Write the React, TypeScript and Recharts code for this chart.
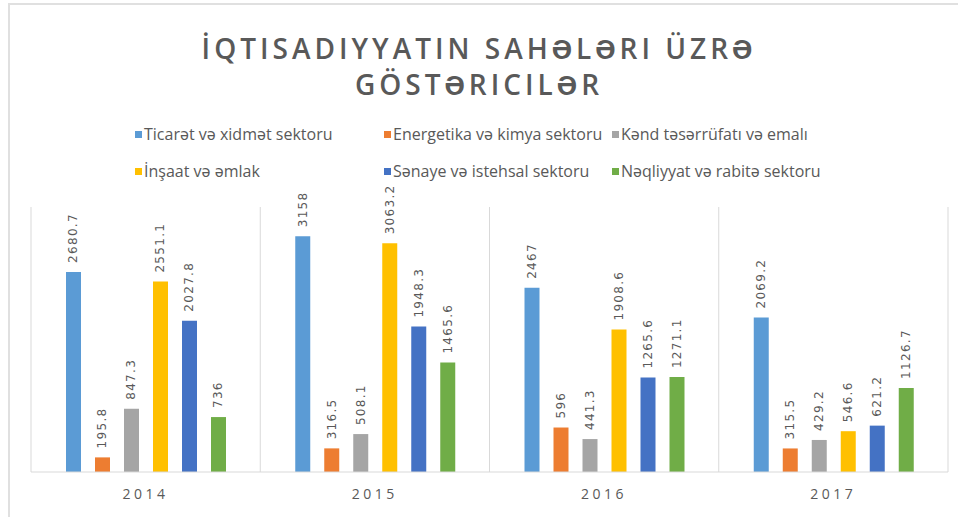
import React from "react";
import { Bar, BarChart, CartesianGrid, LabelList, XAxis, YAxis } from "recharts";

const years = ["2014", "2015", "2016", "2017"];
const ticaret = [2680.7, 3158, 2467, 2069.2];
const energetika = [195.8, 316.5, 596, 315.5];
const kend = [847.3, 508.1, 441.3, 429.2];
const insaat = [2551.1, 3063.2, 1908.6, 546.6];
const senaye = [2027.8, 1948.3, 1265.6, 621.2];
const neqliyyat = [736, 1465.6, 1271.1, 1126.7];

const series = [
  { key: "ticaret", name: "Ticarət və xidmət sektoru", color: "#5B9BD5", values: ticaret },
  { key: "energetika", name: "Energetika və kimya sektoru", color: "#ED7D31", values: energetika },
  { key: "kend", name: "Kənd təsərrüfatı və emalı", color: "#A5A5A5", values: kend },
  { key: "insaat", name: "İnşaat və əmlak", color: "#FFC000", values: insaat },
  { key: "senaye", name: "Sənaye və istehsal sektoru", color: "#4472C4", values: senaye },
  { key: "neqliyyat", name: "Nəqliyyat və rabitə sektoru", color: "#70AD47", values: neqliyyat },
];

const data = years.map((year, i) => {
  const row: Record<string, any> = { year, idx: i + 0.5 };
  series.forEach((s) => (row[s.key] = s.values[i]));
  return row;
});

const textColor = "#595959";
const gridColor = "#d9d9d9";
const font = "'Open Sans', sans-serif";

// legend layout: 3 columns, 2 rows
const legendCols = [135, 384, 612];
const legendRows = [0, 37];

function ChartLegend() {
  return (
    <div style={{ position: "absolute", left: 0, top: 124, width: 958, height: 60 }}>
      {series.map((s, i) => (
        <div
          key={s.key}
          style={{
            position: "absolute",
            left: legendCols[i % 3],
            top: legendRows[Math.floor(i / 3)],
            display: "flex",
            alignItems: "center",
            fontFamily: font,
            fontSize: 16,
            lineHeight: "20px",
            color: textColor,
            whiteSpace: "nowrap",
          }}
        >
          <span style={{ display: "inline-block", width: 7, height: 7, background: s.color, marginRight: 2 }} />
          {s.name}
        </div>
      ))}
    </div>
  );
}

const renderValue = (props: any) => {
  const { x, y, width, value } = props;
  const cx = x + width / 2;
  const ty = y - 9;
  return (
    <text
      x={cx}
      y={ty}
      transform={`rotate(-90, ${cx}, ${ty})`}
      textAnchor="start"
      dominantBaseline="central"
      fill={textColor}
      fontSize={12}
      letterSpacing={1.3}
      fontFamily="'DejaVu Sans', sans-serif"
    >
      {value}
    </text>
  );
};

export default function App() {
  return (
    <div
      style={{
        position: "absolute",
        left: 0,
        top: 0,
        width: 958,
        height: 517,
        background: "#fff",
        overflow: "hidden",
      }}
    >
      <div
        style={{
          position: "absolute",
          left: 8,
          top: 3,
          width: 950,
          height: 514,
          borderLeft: "2px solid #e0e0e0",
          borderTop: "2px solid #e0e0e0",
        }}
      />
      <div
        style={{
          position: "absolute",
          left: 0,
          top: 30,
          width: 958,
          textAlign: "center",
          fontFamily: font,
          fontSize: 28,
          fontWeight: 600,
          letterSpacing: 4,
          lineHeight: "36px",
          color: textColor,
        }}
      >
        İQTISADIYYATIN SAHƏLƏRI ÜZRƏ
        <br />
        GÖSTƏRICILƏR
      </div>
      <ChartLegend />
      <BarChart
        width={958}
        height={517}
        data={data}
        margin={{ top: 207, right: 10, bottom: 15, left: 31 }}
        barGap={14}
        barSize={15}
        style={{ position: "absolute", left: 0, top: 0 }}
      >
        <XAxis xAxisId="grid" dataKey="idx" type="number" domain={[0, 4]} ticks={[0, 1, 2, 3, 4]} hide />
        <CartesianGrid xAxisId="grid" horizontal={false} stroke={gridColor} />
        <XAxis
          dataKey="year"
          axisLine={{ stroke: gridColor }}
          tickLine={false}
          tickMargin={11}
          tick={{ fill: textColor, fontSize: 14, letterSpacing: 3.5, fontFamily: font }}
        />
        <YAxis hide domain={[0, 3550]} />
        {series.map((s) => (
          <Bar key={s.key} dataKey={s.key} name={s.name} fill={s.color} isAnimationActive={false}>
            <LabelList dataKey={s.key} content={renderValue} />
          </Bar>
        ))}
      </BarChart>
    </div>
  );
}
